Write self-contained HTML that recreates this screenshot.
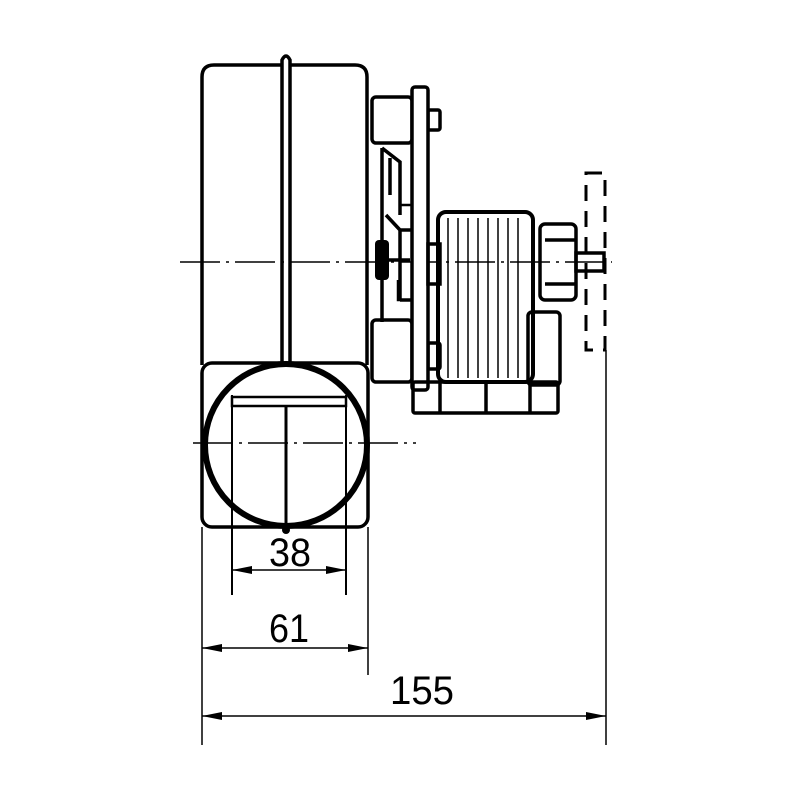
<!DOCTYPE html>
<html><head><meta charset="utf-8"><style>html,body{margin:0;padding:0;background:#fff}svg{display:block}</style></head><body>
<svg width="800" height="800" viewBox="0 0 800 800" xmlns="http://www.w3.org/2000/svg" fill="none" stroke="#000" stroke-width="3.5">
<path d="M202,365 V77 Q202,65 214,65 H355 Q367,65 367,77 V365"/>
<path d="M282,362 V60 Q286,52 290,60 V362" fill="#fff"/>
<rect x="202" y="363" width="166" height="164" rx="10"/>
<circle cx="286" cy="445" r="81" stroke-width="6"/>
<rect x="232" y="397" width="114" height="9" stroke-width="2.5"/>
<line x1="232" y1="395" x2="232" y2="595" stroke-width="2"/>
<line x1="346" y1="395" x2="346" y2="595" stroke-width="2"/>
<line x1="286" y1="406" x2="286" y2="528" stroke-width="3"/>
<circle cx="286" cy="530" r="4" fill="#000" stroke="none"/>
<line x1="180" y1="262" x2="612" y2="262" stroke-width="1.5" stroke-dasharray="40,6,3,6"/>
<line x1="193" y1="443" x2="416" y2="443" stroke-width="1.5" stroke-dasharray="40,6,3,6"/>
<rect x="372" y="97" width="40" height="46" rx="4"/>
<rect x="428" y="110" width="12" height="20" rx="2"/>
<rect x="372" y="320" width="40" height="62" rx="4"/>
<rect x="428" y="343" width="12" height="26" rx="2"/>
<rect x="412" y="87" width="16" height="303" rx="3" fill="#fff"/>
<path d="M382,148 V322 M382,148 L400,162 V215 M390,158 V195 M386,215 L400,230 V300 M400,230 H412 M400,300 H412 M386,260 H410"/>
<path d="M400,205 H412 M398,280 V300 H410" stroke-width="2.5"/>
<rect x="375" y="240" width="14" height="40" fill="#000" stroke="none" rx="4"/>
<rect x="428" y="244" width="12" height="40"/>
<rect x="438" y="212" width="95" height="170" rx="8" stroke-width="4"/>
<g stroke-width="1.5">
<line x1="448" y1="218" x2="448" y2="378"/><line x1="458" y1="218" x2="458" y2="378"/><line x1="468" y1="218" x2="468" y2="378"/><line x1="478" y1="218" x2="478" y2="378"/><line x1="488" y1="218" x2="488" y2="378"/><line x1="498" y1="218" x2="498" y2="378"/><line x1="508" y1="218" x2="508" y2="378"/><line x1="518" y1="218" x2="518" y2="378"/>
</g>
<rect x="528" y="312" width="32" height="73" rx="4"/>
<rect x="413" y="382" width="145" height="31" rx="2"/>
<line x1="440" y1="382" x2="440" y2="413"/><line x1="486" y1="382" x2="486" y2="413"/><line x1="530" y1="382" x2="530" y2="413"/>
<rect x="540" y="224" width="36" height="76" rx="5"/>
<line x1="545" y1="240" x2="576" y2="240"/><line x1="545" y1="284" x2="576" y2="284"/>
<rect x="576" y="253" width="28" height="18"/>
<rect x="586" y="173" width="19" height="177" stroke-dasharray="16,10" stroke-width="3"/>
<g stroke-width="1.5">
<line x1="202" y1="527" x2="202" y2="745"/>
<line x1="368" y1="527" x2="368" y2="675"/>
<line x1="606" y1="350" x2="606" y2="745"/>
<line x1="232" y1="570" x2="346" y2="570"/>
<line x1="202" y1="648" x2="368" y2="648"/>
<line x1="202" y1="716" x2="606" y2="716"/>
</g>
<g fill="#000" stroke="none">
<path d="M232,570 l20,-4 v8z"/><path d="M346,570 l-20,-4 v8z"/>
<path d="M202,648 l20,-4 v8z"/><path d="M368,648 l-20,-4 v8z"/>
<path d="M202,716 l20,-4 v8z"/><path d="M606,716 l-20,-4 v8z"/>
</g>
<g fill="#000" stroke="none" font-family="Liberation Sans, sans-serif" font-size="40" text-anchor="middle">
<text x="290" y="566" textLength="42" lengthAdjust="spacingAndGlyphs">38</text>
<text x="289" y="642" textLength="40" lengthAdjust="spacingAndGlyphs">61</text>
<text x="422" y="704" textLength="64" lengthAdjust="spacingAndGlyphs">155</text>
</g>
</svg>
</body></html>
